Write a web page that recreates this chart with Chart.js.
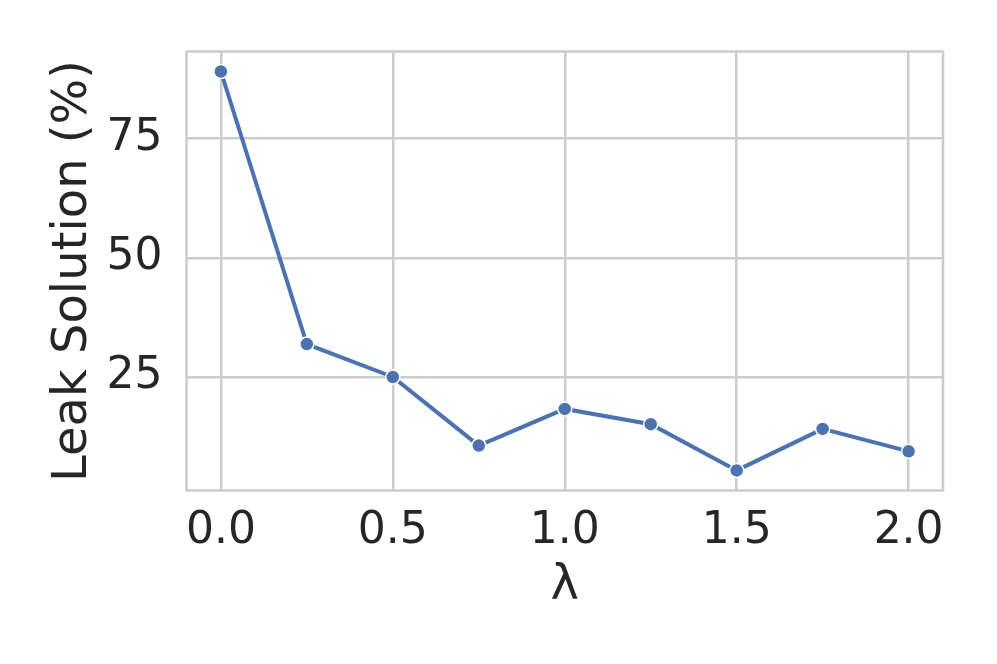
<!DOCTYPE html>
<html>
<head>
<meta charset="utf-8">
<script src="https://cdn.jsdelivr.net/npm/chart.js@4.4.0/dist/chart.umd.min.js"></script>
<style>
  html, body { margin: 0; padding: 0; background: #fff; }
  canvas { display: block; }
</style>
</head>
<body>
<canvas id="chart-line" width="997" height="664"></canvas>
<script>
// values
var lambdas = [0.0, 0.25, 0.5, 0.75, 1.0, 1.25, 1.5, 1.75, 2.0];
var leakSolution = [89.1, 31.9, 25.0, 10.6, 18.3, 15.1, 5.4, 14.1, 9.4];
var xTicks = [0.0, 0.5, 1.0, 1.5, 2.0];
var yTicks = [25, 50, 75];

var gridColor = '#cccccc';
var textColor = '#262626';
var lineColor = '#4c72b0';

// top/right spines like the seaborn frame
var frame = {
    id: 'frame',
    beforeDatasetsDraw: function(chart) {
        var a = chart.chartArea;
        var c = chart.ctx;
        c.save();
        c.strokeStyle = gridColor;
        c.lineWidth = 2.5;
        c.strokeRect(a.left, a.top, a.right - a.left, a.bottom - a.top);
        c.restore();
    }
};

var ctx = document.getElementById('chart-line');

var myChart = new Chart(ctx, {
    type: 'scatter',
    data: {
        datasets: [{
            data: lambdas.map(function(x, i) { return { x: x, y: leakSolution[i] }; }),
            showLine: true,
            borderColor: lineColor,
            borderWidth: 4,
            pointRadius: 7,
            pointHoverRadius: 7,
            pointBackgroundColor: lineColor,
            pointBorderColor: '#ffffff',
            pointBorderWidth: 1.5
        }]
    },
    options: {
        responsive: false,
        animation: false,
        layout: {
            padding: { top: 51.5, right: 54, left: 0, bottom: 0 }
        },
        plugins: {
            legend: { display: false },
            tooltip: { enabled: false }
        },
        scales: {
            x: {
                type: 'linear',
                min: -0.1,
                max: 2.1,
                afterBuildTicks: function(scale) {
                    scale.ticks = xTicks.map(function(v) { return { value: v }; });
                },
                afterFit: function(scale) { scale.height = 173.5; },
                grid: { color: gridColor, lineWidth: 2.5, drawTicks: false },
                border: { display: false },
                ticks: {
                    padding: 15,
                    color: textColor,
                    font: { family: "'DejaVu Sans'", size: 44 },
                    maxRotation: 0,
                    callback: function(v) { return v.toFixed(1); }
                },
                title: {
                    display: true,
                    text: 'λ',
                    color: textColor,
                    font: { family: "'DejaVu Sans'", size: 48 },
                    padding: { top: 0, bottom: 49 }
                }
            },
            y: {
                min: 1.18,
                max: 93.3,
                afterBuildTicks: function(scale) {
                    scale.ticks = yTicks.map(function(v) { return { value: v }; });
                },
                afterFit: function(scale) { scale.width = 186.5; },
                grid: { color: gridColor, lineWidth: 2.5, drawTicks: false },
                border: { display: false },
                ticks: {
                    padding: 24,
                    color: textColor,
                    font: { family: "'DejaVu Sans'", size: 44 }
                },
                title: {
                    display: true,
                    text: 'Leak Solution (%)',
                    color: textColor,
                    font: { family: "'DejaVu Sans'", size: 48 },
                    padding: { top: 45, bottom: 0 }
                }
            }
        }
    },
    plugins: [frame]
});
</script>
</body>
</html>
